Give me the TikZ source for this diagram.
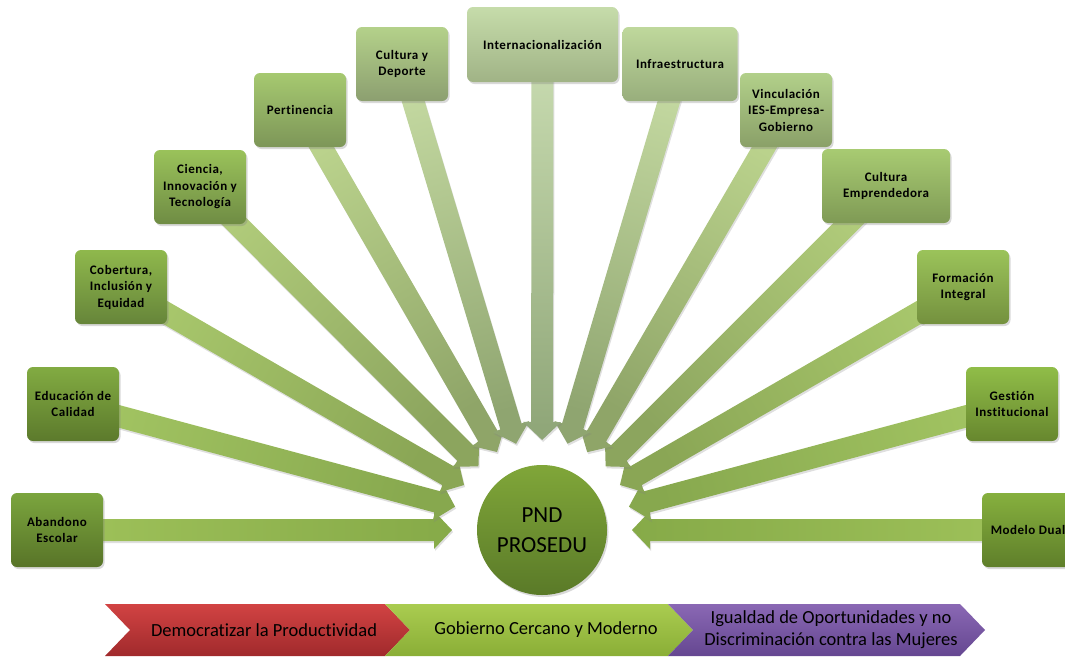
\documentclass[tikz,border=0pt]{standalone}
\usepackage{fontspec}
\setmainfont{Carlito}[Ligatures=NoCommon]
\newfontfamily\boxfont[LetterSpace=4,Ligatures=NoCommon]{Carlito}
\usetikzlibrary{calc,shadows,backgrounds}

% box colours (top / bottom)
\definecolor{bt1}{HTML}{7BA53E}\definecolor{bb1}{HTML}{587428}
\definecolor{bt2}{HTML}{82AB42}\definecolor{bb2}{HTML}{5C7A2C}
\definecolor{bt3}{HTML}{8FB84C}\definecolor{bb3}{HTML}{66853A}
\definecolor{bt4}{HTML}{9AC25A}\definecolor{bb4}{HTML}{6F8C44}
\definecolor{bt5}{HTML}{A6C970}\definecolor{bb5}{HTML}{7D9658}
\definecolor{bt6}{HTML}{B4D18A}\definecolor{bb6}{HTML}{8C9F70}
\definecolor{bt7}{HTML}{C6DCAA}\definecolor{bb7}{HTML}{A0B386}
\definecolor{bt8}{HTML}{BFD89C}\definecolor{bb8}{HTML}{98AE7C}
\definecolor{bt9}{HTML}{B2D08A}\definecolor{bb9}{HTML}{8AA068}
\definecolor{bt10}{HTML}{A8CB72}\definecolor{bb10}{HTML}{7F9A55}
\definecolor{bt11}{HTML}{9BC35A}\definecolor{bb11}{HTML}{74913E}
\definecolor{bt12}{HTML}{90BD48}\definecolor{bb12}{HTML}{67872E}
\definecolor{bt13}{HTML}{86B03E}\definecolor{bb13}{HTML}{5F7F2A}
% arrow colours (light / dark)
\definecolor{al0}{HTML}{9FC25A}\definecolor{ad0}{HTML}{86AA48}
\definecolor{al1}{HTML}{A2C462}\definecolor{ad1}{HTML}{87A84E}
\definecolor{al2}{HTML}{A8C76C}\definecolor{ad2}{HTML}{8AA655}
\definecolor{al3}{HTML}{B0CB7A}\definecolor{ad3}{HTML}{8CA55E}
\definecolor{al4}{HTML}{BAD28C}\definecolor{ad4}{HTML}{8FA568}
\definecolor{al5}{HTML}{C3D8A0}\definecolor{ad5}{HTML}{8FA570}
\definecolor{al6}{HTML}{CADDB2}\definecolor{ad6}{HTML}{8EA577}
% banner colours
\definecolor{redT}{HTML}{D24343}\definecolor{redB}{HTML}{A02A2C}
\definecolor{grnT}{HTML}{AACC50}\definecolor{grnB}{HTML}{8AAE36}
\definecolor{purT}{HTML}{8A68B4}\definecolor{purB}{HTML}{654791}
\definecolor{hubT}{HTML}{80A639}\definecolor{hubB}{HTML}{5A7A28}

\newcommand\spokearrow[4]{%
  \coordinate (tip#1) at ($(hub.center)!90pt!(#1.center)$);
  \coordinate (hb#1) at ($(hub.center)!108pt!(#1.center)$);
  \path[arrowbody, top color=#3, bottom color=#4, shading angle=#2]
    ($(#1.center)!11pt!90:(tip#1)$) -- ($(hb#1)!11pt!-90:(#1.center)$)
    -- ($(hb#1)!19pt!-90:(#1.center)$) -- (tip#1)
    -- ($(hb#1)!19pt!90:(#1.center)$) -- ($(hb#1)!11pt!90:(#1.center)$)
    -- ($(#1.center)!11pt!-90:(tip#1)$) -- cycle;
}

\begin{document}
\begin{tikzpicture}[x=1pt,y=1pt,
  topicbox/.style={rounded corners=6pt, minimum width=92pt, minimum height=74pt,
    inner sep=2pt, align=center, text=black,
    font=\boxfont\bfseries\fontsize{13}{16.5}\selectfont,
    drop shadow={shadow xshift=1.5pt, shadow yshift=-2pt, opacity=0.3}},
  arrowbody/.style={drop shadow={shadow xshift=1pt, shadow yshift=-2pt, opacity=0.25}},
  hubstyle/.style={circle, minimum size=130pt, inner sep=0pt, align=center,
    top color=hubT, bottom color=hubB, text=black,
    font=\fontsize{23}{30}\selectfont,
    drop shadow={shadow xshift=1.5pt, shadow yshift=-2pt, opacity=0.3}},
  bannertext/.style={align=center, text=black, font=\fontsize{18.5}{22}\selectfont},
  chevron/.style={draw=none}
]
\useasboundingbox (0,0) rectangle (1065,-656);

% topic boxes
\node[topicbox, top color=bt1, bottom color=bb1] (b1) at (57,-530) {Abandono\\Escolar};
\node[topicbox, top color=bt2, bottom color=bb2] (b2) at (73,-404) {Educación de\\Calidad};
\node[topicbox, top color=bt3, bottom color=bb3] (b3) at (121,-287) {Cobertura,\\Inclusión y\\Equidad};
\node[topicbox, top color=bt4, bottom color=bb4] (b4) at (200,-187) {Ciencia,\\Innovación y\\Tecnología};
\node[topicbox, top color=bt5, bottom color=bb5] (b5) at (300,-110) {Pertinencia};
\node[topicbox, top color=bt6, bottom color=bb6] (b6) at (402,-64) {Cultura y\\Deporte};
\node[topicbox, top color=bt7, bottom color=bb7, minimum width=151pt, minimum height=75pt] (b7) at (542.5,-44.5) {Internacionalización};
\node[topicbox, top color=bt8, bottom color=bb8, minimum width=115pt] (b8) at (680,-64) {Infraestructura};
\node[topicbox, top color=bt9, bottom color=bb9] (b9) at (786,-110) {Vinculación\\IES-Empresa-\\Gobierno};
\node[topicbox, top color=bt10, bottom color=bb10, minimum width=128pt] (b10) at (886,-186) {Cultura\\Emprendedora};
\node[topicbox, top color=bt11, bottom color=bb11] (b11) at (963,-287) {Formación\\Integral};
\node[topicbox, top color=bt12, bottom color=bb12] (b12) at (1012,-404) {Gestión\\Institucional};
\node[topicbox, top color=bt13, bottom color=bb13] (b13) at (1028,-530) {Modelo Dual};

% hub
\node[hubstyle] (hub) at (542,-530) {PND\\PROSEDU};

% arrows behind
\begin{pgfonlayer}{background}
\spokearrow{b1}{90}{al0}{ad0}
\spokearrow{b13}{-90}{al0}{ad0}
\spokearrow{b2}{75}{al1}{ad1}
\spokearrow{b12}{-75}{al1}{ad1}
\spokearrow{b3}{60}{al2}{ad2}
\spokearrow{b11}{-60}{al2}{ad2}
\spokearrow{b4}{45}{al3}{ad3}
\spokearrow{b10}{-45}{al3}{ad3}
\spokearrow{b5}{30}{al4}{ad4}
\spokearrow{b9}{-30}{al4}{ad4}
\spokearrow{b6}{15}{al5}{ad5}
\spokearrow{b8}{-15}{al5}{ad5}
\spokearrow{b7}{0}{al6}{ad6}
\end{pgfonlayer}

% banner
\path[chevron, top color=redT, bottom color=redB]
  (105,-604) -- (385,-604) -- (410,-630) -- (385,-656) -- (105,-656) -- (130,-630) -- cycle;
\path[chevron, top color=grnT, bottom color=grnB]
  (385,-604) -- (668,-604) -- (693,-630) -- (668,-656) -- (385,-656) -- (410,-630) -- cycle;
\path[chevron, top color=purT, bottom color=purB]
  (668,-604) -- (960,-604) -- (985,-630) -- (960,-656) -- (668,-656) -- (693,-630) -- cycle;
\node[bannertext] (t1) at (264,-630) {Democratizar la Productividad};
\node[bannertext] (t2) at (546,-630) {Gobierno Cercano y Moderno};
\node[bannertext] (t3) at (831,-630) {Igualdad de Oportunidades y no\\Discriminación contra las Mujeres};
\end{tikzpicture}
\end{document}
